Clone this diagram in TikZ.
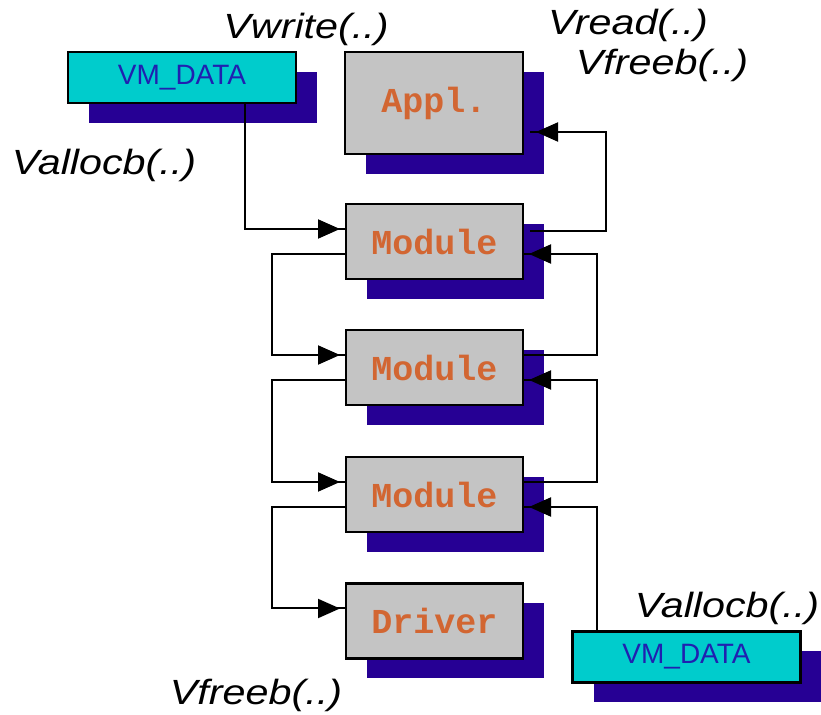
\documentclass[tikz,border=0pt]{standalone}
\usepackage{fontspec}
\usetikzlibrary{shadows,arrows.meta,decorations.markings}
\newfontfamily\callfont{Liberation Sans}[FakeStretch=1.18]
\newfontfamily\boxfont{Liberation Mono}
\newfontfamily\datafont{Liberation Sans}

\definecolor{shadowblue}{RGB}{38,0,148}
\definecolor{boxgray}{RGB}{196,196,196}
\definecolor{datacyan}{RGB}{0,204,204}
\definecolor{labelorange}{RGB}{210,102,50}
\definecolor{datablue}{RGB}{32,32,176}

\tikzset{
  boxshadow/.style={drop shadow={shadow xshift=10.5pt, shadow yshift=-10pt,
      fill=shadowblue, opacity=1}},
  layerbox/.style={draw=black, line width=1.1pt, fill=boxgray, boxshadow,
      outer sep=0pt, minimum width=88.5pt, minimum height=37.5pt,
      text=labelorange, font=\boxfont\bfseries\fontsize{17.5}{19}\selectfont},
  databox/.style={draw=black, line width=1.1pt, fill=datacyan, boxshadow,
      outer sep=0pt, minimum width=114pt, minimum height=25.5pt,
      text=datablue, font=\datafont\fontsize{14}{16}\selectfont},
  callname/.style={font=\callfont\itshape\fontsize{17.5}{20}\selectfont,
      inner sep=0pt},
  conn/.style={line width=1pt,
      decoration={markings, mark=at position -3pt with
        {\arrow{Triangle[length=11pt,width=9.5pt]}}},
      postaction={decorate}},
}

\begin{document}
\begin{tikzpicture}[x=0.5pt,y=-0.5pt]
  \useasboundingbox (0,0) rectangle (821,715);

  % buffers
  \node[databox] (vd1) at (182,77.5) {VM\_DATA};
  \node[databox] (vd2) at (686.5,657) {VM\_DATA};

  % layer stack
  \node[layerbox, minimum width=89pt, minimum height=51pt] (appl) at (434,103) {Appl.};
  \node[layerbox] (m1) at (434.5,241.5) {Module};
  \node[layerbox] (m2) at (434.5,367.5) {Module};
  \node[layerbox] (m3) at (434.5,494.5) {Module};
  \node[layerbox] (drv) at (434.5,621) {Driver};

  % call names
  \node[callname] (cwrite) at (306,29) {Vwrite(..)};
  \node[callname] (calloc1) at (104,165) {Vallocb(..)};
  \node[callname] (cread) at (628,25) {Vread(..)};
  \node[callname] (cfree1) at (662,65) {Vfreeb(..)};
  \node[callname] (cfree2) at (256,695) {Vfreeb(..)};
  \node[callname] (calloc2) at (727,608) {Vallocb(..)};

  % downward path (left side)
  \draw[conn] ([xshift=31.5pt]vd1.south) |- ([yshift=6.25pt]m1.west);
  \draw[conn] ([yshift=-6.25pt]m1.west) -- ++(-74,0) |- ([yshift=6.25pt]m2.west);
  \draw[conn] ([yshift=-6.25pt]m2.west) -- ++(-74,0) |- ([yshift=6.25pt]m3.west);
  \draw[conn] ([yshift=-6.25pt]m3.west) -- ++(-74,0) |- ([yshift=6.25pt]drv.west);

  % upward path (right side)
  \draw[conn] ([xshift=-44.75pt]vd2.north) |- ([yshift=-6.25pt]m3.east);
  \draw[conn] ([yshift=6.25pt]m3.east) -- ++(74,0) |- ([yshift=-6.25pt]m2.east);
  \draw[conn] ([yshift=6.25pt]m2.east) -- ++(74,0) |- ([yshift=-6.25pt]m1.east);
  \draw[conn] ([xshift=3.5pt,yshift=5.25pt]m1.east) -- ++(76,0)
      |- ([xshift=3.5pt,yshift=-14.5pt]appl.east);
\end{tikzpicture}
\end{document}
